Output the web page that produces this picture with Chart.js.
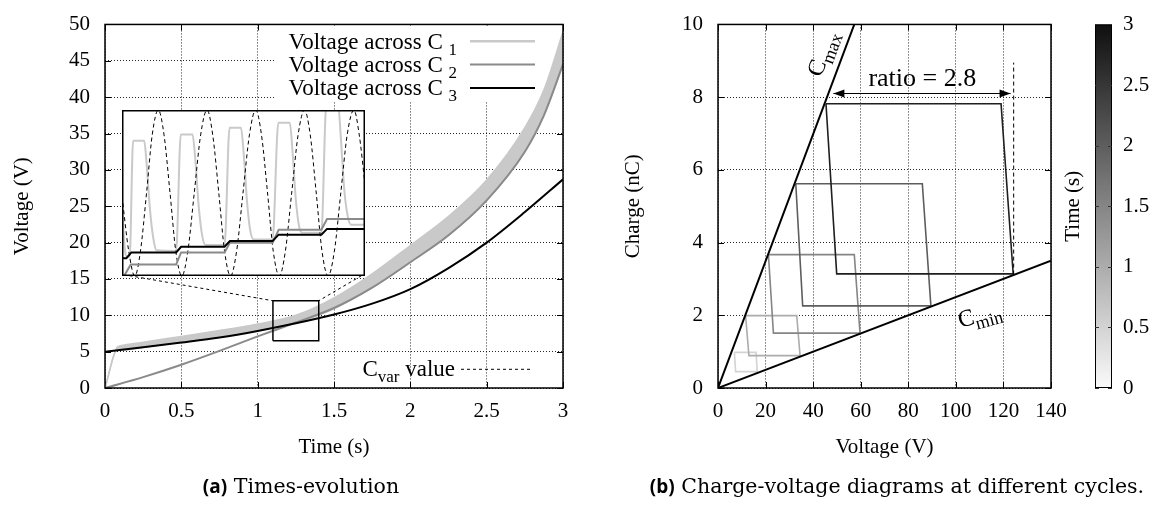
<!DOCTYPE html>
<html>
<head>
<meta charset="utf-8">
<title>Capacitor charge pump</title>
<script src="https://cdn.jsdelivr.net/npm/chart.js@4.4.1/dist/chart.umd.min.js"></script>
<style>
  html, body { margin:0; padding:0; background:#fff; }
  #wrap { position:relative; width:1169px; height:509px; overflow:hidden; background:#fff; }
  #wrap canvas { position:absolute; top:0; }
  .cap { position:absolute; top:474px; white-space:nowrap; transform:translateX(-50%);
         font-family:"DejaVu Serif", serif; font-size:20.5px; color:#000; line-height:24px; }
  .cap b { font-family:"Open Sans", sans-serif; font-weight:700; font-size:19px; }
</style>
</head>
<body>
<div id="wrap">
  <canvas id="cA" width="585" height="509" style="left:0"></canvas>
  <canvas id="cB" width="584" height="509" style="left:585px"></canvas>
  <canvas id="cI" width="10" height="10" style="left:0"></canvas>
  <div class="cap" style="left:301px"><b>(a)</b> Times-evolution</div>
  <div class="cap" style="left:897px"><b>(b)</b> Charge-voltage diagrams at different cycles.</div>
</div>
<script>
// ================= Panel (a): time evolution =================
const tC3 = [0, 0.25, 0.5, 0.75, 1.0, 1.25, 1.5, 1.75, 2.0, 2.25, 2.5, 2.75, 3.0];
const vC3 = [5.0, 5.6, 6.25, 6.95, 7.85, 8.9, 10.1, 11.6, 13.6, 16.5, 20.0, 24.2, 28.7];
const tC2 = [0, 0.25, 0.5, 0.75, 1.0, 1.25, 1.5, 1.75, 2.0, 2.25, 2.5, 2.75, 2.875, 3.0];
const vC2 = [0, 1.5, 3.2, 5.1, 7.1, 9.0, 11.0, 13.8, 17.3, 21.0, 25.8, 32.5, 37.5, 44.5];
const tC1 = [0, 0.08, 0.1, 0.25, 0.5, 0.75, 1.0, 1.25, 1.5, 1.75, 2.0, 2.25, 2.5, 2.75, 2.875, 3.0];
const vC1low  = [0, 5.2, 5.2, 5.6, 6.3, 7.0, 7.9, 9.0, 10.9, 13.8, 17.3, 21.0, 25.8, 32.5, 37.5, 44.5];
const vC1high = [0, 5.6, 5.8, 6.3, 7.1, 7.9, 8.8, 10.0, 12.4, 15.7, 19.6, 23.6, 28.6, 35.8, 41.0, 49.0];

const xTicksA = [0, 0.5, 1, 1.5, 2, 2.5, 3];
const xTickLabelsA = ['0', '0.5', '1', '1.5', '2', '2.5', '3'];
const yTicksA = [0, 5, 10, 15, 20, 25, 30, 35, 40, 45, 50];
const yTickLabelsA = ['0', '5', '10', '15', '20', '25', '30', '35', '40', '45', '50'];
const legendSubs = ['1', '2', '3'];

// zoom window, inset placement (data units of panel a)
const zoomT = [1.1, 1.4];
const zoomV = [6.5, 12.0];
const insetT = [0.114, 1.70];
const insetV = [15.45, 38.2];
const linkT = [0.16, 1.68];

// inset series (t in s, V in V; Cvar normalised 0..1)
const tI1 = [1.1, 1.1033, 1.1066, 1.1095, 1.1137, 1.1274, 1.1303, 1.1344, 1.1386, 1.1427, 1.1668, 1.1726, 1.1871, 1.1905, 1.1946, 1.1988, 1.2029, 1.2266, 1.2328, 1.2469, 1.2502, 1.2544, 1.2585, 1.2627, 1.2859, 1.2930, 1.3071, 1.3104, 1.3145, 1.3187, 1.3228, 1.3461, 1.3523, 1.3668, 1.3701, 1.3743, 1.3784, 1.3826, 1.4];
const vI1 = [8.95, 7.44, 7.14, 7.14, 10.98, 10.98, 10.25, 8.74, 7.76, 7.35, 7.33, 11.19, 11.19, 10.36, 8.84, 7.87, 7.53, 7.53, 11.41, 11.41, 10.57, 8.95, 7.98, 7.71, 7.71, 11.58, 11.58, 10.68, 9.06, 8.14, 7.93, 7.93, 12.2, 12.2, 11.11, 9.39, 8.52, 8.20, 8.20];
const tI2 = [1.1015, 1.1108, 1.1668, 1.1730, 1.2266, 1.2332, 1.2859, 1.2934, 1.3461, 1.3531, 1.4];
const vI2 = [6.45, 6.88, 6.88, 7.28, 7.28, 7.60, 7.60, 8.03, 8.03, 8.39, 8.39];
const tI3 = [1.1, 1.1054, 1.1116, 1.1668, 1.1730, 1.2266, 1.2332, 1.2859, 1.2934, 1.3461, 1.3531, 1.4];
const vI3 = [7.09, 7.09, 7.28, 7.28, 7.47, 7.47, 7.66, 7.66, 7.87, 7.87, 8.06, 8.06];
const tIc = [1.1000, 1.1083, 1.1158, 1.1228, 1.1303, 1.1373, 1.1448, 1.1519, 1.1593, 1.1664, 1.1739, 1.1813, 1.1892, 1.1971, 1.2050, 1.2120, 1.2195, 1.2266, 1.2340, 1.2415, 1.2494, 1.2573, 1.2651, 1.2722, 1.2797, 1.2867, 1.2942, 1.3017, 1.3095, 1.3174, 1.3253, 1.3324, 1.3398, 1.3469, 1.3544, 1.3622, 1.3701, 1.3780, 1.3863, 1.3929, 1.4000];
const cIc = [0.48, 0.15, 0, 0.15, 0.5, 0.85, 1, 0.85, 0.5, 0.15, 0, 0.15, 0.5, 0.85, 1, 0.85, 0.5, 0.15, 0, 0.15, 0.5, 0.85, 1, 0.85, 0.5, 0.15, 0, 0.15, 0.5, 0.85, 1, 0.85, 0.5, 0.15, 0, 0.15, 0.5, 0.85, 1, 0.85, 0.55];

// ================= Panel (b): charge-voltage cycles =================
const loopTimes = [0.5, 1.0, 1.5, 2.0, 2.8];
const loopV = [
  [6.9, 16.0, 16.5, 7.4, 6.9],
  [11.6, 33.1, 34.5, 13.0, 11.6],
  [21.2, 57.3, 59.7, 23.3, 21.2],
  [32.7, 85.9, 89.5, 35.6, 32.7],
  [45.4, 119.0, 124.1, 49.9, 45.4]
];
const loopQ = [
  [0.98, 0.98, 0.45, 0.45, 0.98],
  [1.99, 1.99, 0.89, 0.89, 1.99],
  [3.67, 3.67, 1.51, 1.51, 3.67],
  [5.62, 5.62, 2.26, 2.26, 5.62],
  [7.82, 7.82, 3.14, 3.14, 7.82]
];
const cmaxV = [0, 57.3], cmaxQ = [0, 10];
const cminV = [0, 140], cminQ = [0, 3.5];
const arrowV = [48.5, 123.0], arrowQ = [8.1, 8.1];
const markV = [124.3, 124.3], markQ = [3.12, 8.95];
const xTicksB = [0, 20, 40, 60, 80, 100, 120, 140];
const xTickLabelsB = ['0', '20', '40', '60', '80', '100', '120', '140'];
const yTicksB = [0, 2, 4, 6, 8, 10];
const yTickLabelsB = ['0', '2', '4', '6', '8', '10'];
const cbRange = [0, 3];
const cbTicks = [0, 0.5, 1, 1.5, 2, 2.5, 3];
const cbTickLabels = ['0', '0.5', '1', '1.5', '2', '2.5', '3'];
const labelRatio = { text: 'ratio = 2.8', v: 85.9, q: 8.5 };
const labelCmax = { main: 'C', sub: 'max', v: 44, q: 9.2 };
const labelCmin = { main: 'C', sub: 'min', v: 110, q: 2.0 };

// ================= helpers =================
const SERIF = '"Liberation Serif","Times New Roman",serif';
const FS = 21;
const LS = 23;
const pts = (xs, ys) => xs.map((x, i) => ({ x: x, y: ys[i] }));
const line = (label, data, color, width, extra) => Object.assign({
  label: label, data: data, borderColor: color, backgroundColor: color, borderWidth: width,
  showLine: true, pointRadius: 0, pointHoverRadius: 0, fill: false, tension: 0
}, extra || {});
const grayOf = t => {
  const g = Math.round(250 - (t - cbRange[0]) / (cbRange[1] - cbRange[0]) * 235);
  return 'rgb(' + g + ',' + g + ',' + g + ')';
};
function drawParts(ctx, parts, x, y, align) {
  let w = 0;
  parts.forEach(p => { ctx.font = p.s + 'px ' + SERIF; p.w = ctx.measureText(p.t).width; w += p.w; });
  let cx = align === 'right' ? x - w : (align === 'center' ? x - w / 2 : x);
  ctx.textAlign = 'left';
  ctx.textBaseline = 'alphabetic';
  parts.forEach(p => { ctx.font = p.s + 'px ' + SERIF; ctx.fillText(p.t, cx, y + (p.dy || 0)); cx += p.w; });
}
function inwardTicks(chart, len) {
  const { ctx, chartArea: a, scales } = chart;
  ctx.save();
  ctx.strokeStyle = '#000';
  ctx.lineWidth = 1;
  ctx.setLineDash([]);
  ctx.beginPath();
  scales.x.ticks.forEach(t => {
    const p = Math.round(scales.x.getPixelForValue(t.value)) + 0.5;
    ctx.moveTo(p, a.bottom); ctx.lineTo(p, a.bottom - len);
    ctx.moveTo(p, a.top); ctx.lineTo(p, a.top + len);
  });
  scales.y.ticks.forEach(t => {
    const p = Math.round(scales.y.getPixelForValue(t.value)) + 0.5;
    ctx.moveTo(a.left, p); ctx.lineTo(a.left + len, p);
    ctx.moveTo(a.right, p); ctx.lineTo(a.right - len, p);
  });
  ctx.stroke();
  ctx.restore();
}
function frame(chart) {
  const { ctx, chartArea: a } = chart;
  ctx.save();
  ctx.strokeStyle = '#000';
  ctx.lineWidth = 1.5;
  ctx.setLineDash([]);
  ctx.strokeRect(a.left, a.top, a.right - a.left, a.bottom - a.top);
  ctx.restore();
}
function axis(min, max, ticks, labels, title, size, tickPad, titlePad, isX) {
  return {
    type: 'linear', min: min, max: max,
    afterBuildTicks: s => { s.ticks = ticks.map(v => ({ value: v })); },
    afterFit: s => { if (isX) s.height = size; else s.width = size; },
    ticks: {
      callback: (v, i) => labels[i], color: '#000', padding: tickPad,
      font: { family: SERIF, size: FS, lineHeight: 0.9 }, maxRotation: 0, autoSkip: false
    },
    grid: { color: 'rgba(0,0,0,0.85)', lineWidth: 1, drawTicks: false },
    border: { display: false, dash: [1, 2] },
    title: { display: true, text: title, color: '#000', font: { family: SERIF, size: FS }, padding: titlePad }
  };
}
const baseOpts = {
  responsive: false, animation: false, events: [],
  plugins: { legend: { display: false }, tooltip: { enabled: false } }
};

// ================= Chart (a) =================
const legendPlugin = {
  id: 'legendA',
  beforeDatasetsDraw(chart) {
    inwardTicks(chart, 6);
    const { ctx, chartArea: a } = chart;
    ctx.save();
    ctx.fillStyle = '#fff';
    ctx.fillRect(a.right - 288, a.top + 1, 287, 76);
    ctx.restore();
  },
  afterDatasetsDraw(chart) {
    const { ctx, chartArea: a } = chart;
    frame(chart);
    const ds = chart.data.datasets;
    const samples = [ds[3], ds[1], ds[0]];
    ctx.save();
    ctx.fillStyle = '#000';
    legendSubs.forEach((s, i) => {
      const yc = a.top + 16.7 + i * 23.4;
      drawParts(ctx, [{ t: 'Voltage across C ', s: LS }, { t: s, s: 17, dy: 6 }], a.right - 106, yc + 7.5, 'right');
      ctx.strokeStyle = samples[i].borderColor;
      ctx.lineWidth = i === 0 ? 2.5 : 2;
      ctx.beginPath(); ctx.moveTo(a.right - 93, yc); ctx.lineTo(a.right - 28, yc); ctx.stroke();
    });
    const yv = a.bottom - 19.2;
    drawParts(ctx, [{ t: 'C', s: LS }, { t: 'var', s: 17, dy: 6 }, { t: ' value', s: LS }], a.right - 108, yv + 7.5, 'right');
    ctx.strokeStyle = '#000'; ctx.lineWidth = 1; ctx.setLineDash([3, 3]);
    ctx.beginPath(); ctx.moveTo(a.right - 102, yv + 0.5); ctx.lineTo(a.right - 30, yv + 0.5); ctx.stroke();
    ctx.restore();
  }
};

const smooth = { cubicInterpolationMode: 'monotone' };
const chartA = new Chart(document.getElementById('cA'), {
  type: 'scatter',
  data: {
    datasets: [
      line('Voltage across C3', pts(tC3, vC3), '#000', 2, Object.assign({ order: 0 }, smooth)),
      line('Voltage across C2', pts(tC2, vC2), '#8a8a8a', 2, Object.assign({ order: 1 }, smooth)),
      line('C1 lower envelope', pts(tC1, vC1low), '#c9c9c9', 1.5, Object.assign({ order: 3 }, smooth)),
      line('Voltage across C1', pts(tC1, vC1high), '#c9c9c9', 1.5, Object.assign({ order: 2, fill: '-1' }, smooth)),
      line('zoom window', pts([zoomT[0], zoomT[1], zoomT[1], zoomT[0], zoomT[0]], [zoomV[0], zoomV[0], zoomV[1], zoomV[1], zoomV[0]]), '#000', 1.5, { order: -1 }),
      line('link left', pts([linkT[0], zoomT[0]], [insetV[0], zoomV[1]]), '#000', 1, { order: -1, borderDash: [3, 3] }),
      line('link right', pts([linkT[1], zoomT[1]], [insetV[0], zoomV[1]]), '#000', 1, { order: -1, borderDash: [3, 3] })
    ]
  },
  options: Object.assign({}, baseOpts, {
    layout: { padding: { left: 0, right: 22, top: 10, bottom: 41 } },
    scales: {
      x: axis(0, 3, xTicksA, xTickLabelsA, 'Time (s)', 80, 14, { top: 0, bottom: 8 }, true),
      y: axis(0, 50, yTicksA, yTickLabelsA, 'Voltage (V)', 105, 15, { top: 10, bottom: 0 }, false)
    }
  }),
  plugins: [legendPlugin]
});

// ================= Inset (zoom of panel a) =================
(function () {
  const sx = chartA.scales.x, sy = chartA.scales.y;
  const left = Math.round(sx.getPixelForValue(insetT[0]));
  const right = Math.round(sx.getPixelForValue(insetT[1]));
  const top = Math.round(sy.getPixelForValue(insetV[1]));
  const bottom = Math.round(sy.getPixelForValue(insetV[0]));
  const cv = document.getElementById('cI');
  cv.width = right - left; cv.height = bottom - top;
  cv.style.left = left + 'px'; cv.style.top = top + 'px';
  const insetPlugin = {
    id: 'insetBg',
    beforeDraw(chart) {
      chart.ctx.save(); chart.ctx.fillStyle = '#fff';
      chart.ctx.fillRect(0, 0, chart.width, chart.height); chart.ctx.restore();
    },
    afterDraw(chart) {
      const ctx = chart.ctx;
      ctx.save(); ctx.strokeStyle = '#000'; ctx.lineWidth = 1.5;
      ctx.strokeRect(0.75, 0.75, chart.width - 1.5, chart.height - 1.5); ctx.restore();
    }
  };
  new Chart(cv, {
    type: 'scatter',
    data: {
      datasets: [
        line('C3 (zoom)', pts(tI3, vI3), '#000', 2, { order: 0 }),
        line('C2 (zoom)', pts(tI2, vI2), '#8a8a8a', 2, { order: 1 }),
        line('Cvar value', pts(tIc, cIc), '#000', 1, { order: 2, borderDash: [4, 3], yAxisID: 'yc', cubicInterpolationMode: 'monotone' }),
        line('C1 (zoom)', pts(tI1, vI1), '#c9c9c9', 2, { order: 3, cubicInterpolationMode: 'monotone' })
      ]
    },
    options: Object.assign({}, baseOpts, {
      layout: { padding: 0 },
      scales: {
        x: { type: 'linear', display: false, min: zoomT[0], max: zoomT[1] },
        y: { type: 'linear', display: false, min: zoomV[0], max: zoomV[1] },
        yc: { type: 'linear', display: false, min: 0, max: 1 }
      }
    }),
    plugins: [insetPlugin]
  });
})();

// ================= Chart (b) =================
const bPlugin = {
  id: 'panelB',
  beforeDatasetsDraw(chart) { inwardTicks(chart, 6); },
  afterDatasetsDraw(chart) {
    const { ctx, chartArea: a, scales } = chart;
    frame(chart);
    const sx = scales.x, sy = scales.y;
    ctx.save();
    ctx.fillStyle = '#000';
    const m = chart.getDatasetMeta(chart.data.datasets.length - 1).data;
    const p0 = m[0], p1 = m[m.length - 1];
    const head = (tip, dir) => {
      ctx.beginPath();
      ctx.moveTo(tip.x, tip.y);
      ctx.lineTo(tip.x - dir * 11, tip.y - 4);
      ctx.lineTo(tip.x - dir * 11, tip.y + 4);
      ctx.closePath(); ctx.fill();
    };
    head(p0, -1); head(p1, 1);
    ctx.font = '26px ' + SERIF; ctx.textAlign = 'center'; ctx.textBaseline = 'middle';
    ctx.fillText(labelRatio.text, sx.getPixelForValue(labelRatio.v), sy.getPixelForValue(labelRatio.q));
    const ang = Math.atan2(sy.getPixelForValue(cmaxQ[1]) - sy.getPixelForValue(cmaxQ[0]), sx.getPixelForValue(cmaxV[1]) - sx.getPixelForValue(cmaxV[0]));
    ctx.save();
    ctx.translate(sx.getPixelForValue(labelCmax.v), sy.getPixelForValue(labelCmax.q));
    ctx.rotate(ang);
    drawParts(ctx, [{ t: labelCmax.main, s: 24 }, { t: labelCmax.sub, s: 18, dy: 6 }], 0, 7, 'center');
    ctx.restore();
    ctx.save();
    ctx.translate(sx.getPixelForValue(labelCmin.v), sy.getPixelForValue(labelCmin.q));
    ctx.rotate(-15 * Math.PI / 180);
    drawParts(ctx, [{ t: labelCmin.main, s: 24 }, { t: labelCmin.sub, s: 18, dy: 6 }], 0, 7, 'center');
    ctx.restore();
    ctx.restore();
  },
  afterDraw(chart) {
    const { ctx, chartArea: a } = chart;
    const x0 = a.right + 44, w = 17, top = a.top, bot = a.bottom;
    const yOf = t => bot - (t - cbRange[0]) / (cbRange[1] - cbRange[0]) * (bot - top);
    ctx.save();
    const g = ctx.createLinearGradient(0, bot, 0, top);
    g.addColorStop(0, grayOf(cbRange[0]));
    g.addColorStop(0.5, grayOf((cbRange[0] + cbRange[1]) / 2));
    g.addColorStop(1, grayOf(cbRange[1]));
    ctx.fillStyle = g;
    ctx.fillRect(x0, top, w, bot - top);
    ctx.strokeStyle = '#000'; ctx.lineWidth = 1;
    ctx.strokeRect(x0 + 0.5, top + 0.5, w - 1, bot - top - 1);
    ctx.strokeStyle = '#333';
    ctx.beginPath();
    cbTicks.forEach(t => {
      const y = Math.round(yOf(t)) + 0.5;
      ctx.moveTo(x0, y); ctx.lineTo(x0 + 4, y);
      ctx.moveTo(x0 + w, y); ctx.lineTo(x0 + w - 4, y);
    });
    ctx.stroke();
    ctx.fillStyle = '#000';
    ctx.font = FS + 'px ' + SERIF; ctx.textAlign = 'left'; ctx.textBaseline = 'middle';
    cbTicks.forEach((t, i) => ctx.fillText(cbTickLabels[i], x0 + 28, yOf(t)));
    ctx.save();
    ctx.translate(a.right + 22, (top + bot) / 2);
    ctx.rotate(-Math.PI / 2);
    ctx.textAlign = 'center';
    ctx.fillText('Time (s)', 0, 0);
    ctx.restore();
    ctx.restore();
  }
};

const loopSets = loopV.map((vs, i) => line('cycle at t = ' + loopTimes[i] + ' s', pts(vs, loopQ[i]), grayOf(loopTimes[i]), 1.6, { order: 5 - i }));
const chartB = new Chart(document.getElementById('cB'), {
  type: 'scatter',
  data: {
    datasets: loopSets.concat([
      line('Cmax', pts(cmaxV, cmaxQ), '#000', 2, { order: -1 }),
      line('Cmin', pts(cminV, cminQ), '#000', 2, { order: -1 }),
      line('ratio marker', pts(markV, markQ), '#000', 1, { order: -1, borderDash: [4, 3] }),
      line('ratio arrow', pts(arrowV, arrowQ), '#000', 1.2, { order: -1 })
    ])
  },
  options: Object.assign({}, baseOpts, {
    layout: { padding: { left: 0, right: 118, top: 10, bottom: 41 } },
    scales: {
      x: axis(0, 140, xTicksB, xTickLabelsB, 'Voltage (V)', 80, 14, { top: 0, bottom: 8 }, true),
      y: axis(0, 10, yTicksB, yTickLabelsB, 'Charge (nC)', 133, 15, { top: 36, bottom: 0 }, false)
    }
  }),
  plugins: [bPlugin]
});
</script>
</body>
</html>
